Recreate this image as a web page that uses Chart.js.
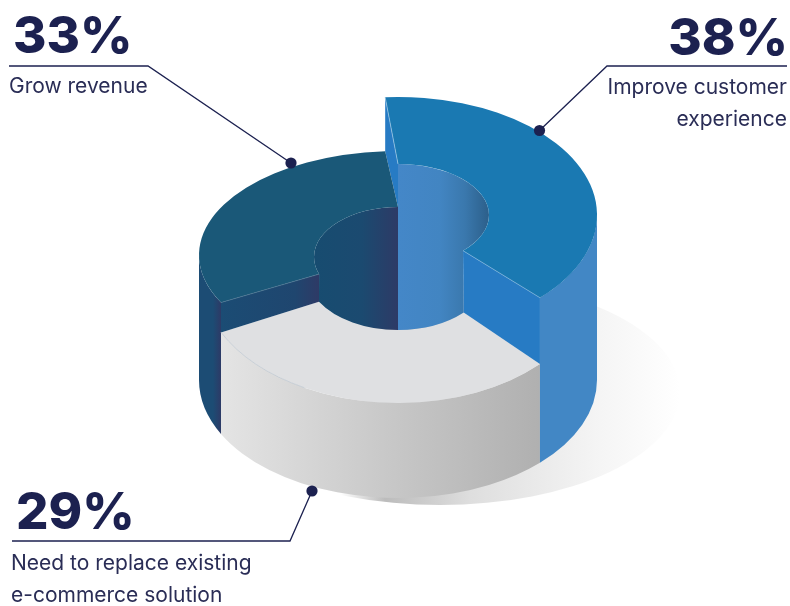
<!DOCTYPE html>
<html>
<head>
<meta charset="utf-8">
<title>Donut</title>
<script src="https://cdn.jsdelivr.net/npm/chart.js@4/dist/chart.umd.min.js"></script>
<style>
  html, body { margin: 0; padding: 0; background: #fff; }
  canvas { display: block; }
</style>
</head>
<body>
<canvas id="donut" width="790" height="606"></canvas>
<script>
const categories = ['Improve customer experience', 'Need to replace existing e-commerce solution', 'Grow revenue'];
const values = [38, 29, 33];
const labelLines = [['Improve customer', 'experience'], ['Need to replace existing', 'e-commerce solution'], ['Grow revenue']];

const topColors = ['#1a79b2', '#dfe0e2', '#1a5878'];
const inkColor = '#1c2150';
const textColor = '#2a2d56';

// each slice sits at its own height in the drawing
const cx = 398;
const outerR = 199;
const bottom = { cy: 380, ry: 118 };
const faces = [
  { cy: 215, ry: 118, holeCy: 215, holeRx: 91, holeRy: 51 },
  { cy: 273, ry: 130, holeCy: 272, holeRx: 92, holeRy: 58 },
  { cy: 255, ry: 104, holeCy: 257, holeRx: 84, holeRy: 50 }
];
// the cuts of the illustration are not quite radial, degrees
const outerNudge = [-3.7, -2.3, 1.6];
const holeStartNudge = [0, -2.4, 8.8];
const holeEndNudge = [-2.4, -2, 0];

const callouts = [
  { pin: [539.5, 130.5], elbow: [607, 66], end: [787, 66], align: 'right', pctX: 788, textX: 787, pctY: 55, lineY: [94, 126] },
  { pin: [312, 491], elbow: [290, 541], end: [12, 541], align: 'left', pctX: 16, textX: 11, pctY: 529, lineY: [570, 602] },
  { pin: [291, 163], elbow: [148, 66], end: [9, 66], align: 'left', pctX: 13, textX: 9, pctY: 53, lineY: [93] }
];

const rad = (d) => d * Math.PI / 180;

function anglesOf(arc, i) {
  const next = (i + 1) % values.length;
  return {
    o1: arc.startAngle + rad(outerNudge[i]),
    o2: arc.endAngle + rad(outerNudge[next]),
    i1: arc.startAngle + rad(holeStartNudge[i]),
    i2: arc.endAngle + rad(holeEndNudge[i])
  };
}

const outerPt = (f, t) => [cx + outerR * Math.cos(t), f.cy + f.ry * Math.sin(t)];
const holePt = (f, t) => [cx + f.holeRx * Math.cos(t), f.holeCy + f.holeRy * Math.sin(t)];

function hGrad(ctx, stops) {
  const x0 = stops[0][0];
  const x1 = stops[stops.length - 1][0];
  const g = ctx.createLinearGradient(x0, 0, x1, 0);
  stops.forEach((s) => g.addColorStop((s[0] - x0) / (x1 - x0), s[1]));
  return g;
}

function fillPoly(ctx, pts, fill) {
  ctx.beginPath();
  pts.forEach((p, i) => (i ? ctx.lineTo(p[0], p[1]) : ctx.moveTo(p[0], p[1])));
  ctx.closePath();
  ctx.fillStyle = fill;
  ctx.fill();
}

function hairline(ctx, a, b, color) {
  ctx.beginPath();
  ctx.moveTo(a[0], a[1]);
  ctx.lineTo(b[0], b[1]);
  ctx.strokeStyle = color;
  ctx.lineWidth = 0.7;
  ctx.stroke();
}

function drawWall(ctx, f, a, b, fill) {
  ctx.beginPath();
  ctx.ellipse(cx, f.cy, outerR, f.ry, 0, a, b);
  ctx.ellipse(cx, bottom.cy, outerR, bottom.ry, 0, b, a, true);
  ctx.closePath();
  ctx.fillStyle = fill;
  ctx.fill();
}

function drawTop(ctx, f, ang, fill) {
  ctx.beginPath();
  ctx.ellipse(cx, f.cy, outerR, f.ry, 0, ang.o1, ang.o2);
  ctx.ellipse(cx, f.holeCy, f.holeRx, f.holeRy, 0, ang.i2, ang.i1, true);
  ctx.closePath();
  ctx.fillStyle = fill;
  ctx.fill();
}

const donut3d = {
  id: 'donut3d',
  beforeDatasetsDraw(chart) {
    const ctx = chart.ctx;
    const arcs = chart.getDatasetMeta(0).data;
    const [blue, grey, dark] = arcs.map(anglesOf);
    const [fBlue, fGrey, fDark] = faces;

    ctx.save();

    // floor shadow
    ctx.beginPath();
    ctx.ellipse(440, 392, 240, 113, 0, 0, Math.PI * 2);
    ctx.fillStyle = hGrad(ctx, [[340, '#ffffff'], [385, '#bcbcbc'], [470, '#dedede'], [600, '#f5f5f5'], [680, '#ffffff']]);
    ctx.fill();

    // outer walls
    drawWall(ctx, fDark, dark.o1, Math.PI, hGrad(ctx, [[198, '#1c4c74'], [213, '#1c4c74'], [221, '#2d3a66']]));
    drawWall(ctx, fGrey, grey.o1, grey.o2, hGrad(ctx, [[221, '#e4e4e4'], [400, '#c6c6c6'], [540, '#b0b0b0']]));
    drawWall(ctx, fBlue, 0, blue.o2, '#4287c5');

    drawTop(ctx, fGrey, grey, topColors[1]);

    // inner walls of the hole
    ctx.beginPath();
    ctx.ellipse(cx, fBlue.holeCy, fBlue.holeRx, fBlue.holeRy, 0, blue.i1, blue.i2);
    ctx.ellipse(cx, fGrey.holeCy, fGrey.holeRx, fGrey.holeRy, 0, grey.i1, Math.PI / 2);
    ctx.closePath();
    ctx.fillStyle = hGrad(ctx, [[398, '#4487c8'], [440, '#4285c2'], [465, '#3a78ad'], [489, '#2c5f8a']]);
    ctx.fill();

    ctx.beginPath();
    ctx.ellipse(cx, fDark.holeCy, fDark.holeRx, fDark.holeRy, 0, dark.i2, dark.i1, true);
    ctx.ellipse(cx, fGrey.holeCy, fGrey.holeRx, fGrey.holeRy, 0, grey.i2, Math.PI / 2, true);
    ctx.closePath();
    ctx.fillStyle = hGrad(ctx, [[314, '#174c70'], [362, '#1b4a70'], [398, '#2d3a66']]);
    ctx.fill();

    // cut faces
    fillPoly(ctx, [outerPt(fBlue, blue.o2), holePt(fBlue, blue.i2), holePt(fGrey, grey.i1), outerPt(fGrey, grey.o1)], '#277bc4');
    fillPoly(ctx, [outerPt(fDark, dark.o1), holePt(fDark, dark.i1), holePt(fGrey, grey.i2), outerPt(fGrey, grey.o2)],
      hGrad(ctx, [[220, '#1b4c74'], [295, '#1f466f'], [319, '#2e3a66']]));
    fillPoly(ctx, [outerPt(fBlue, blue.o1), holePt(fBlue, blue.i1), holePt(fDark, dark.i2), outerPt(fDark, dark.o2)], '#277bc4');

    drawTop(ctx, fDark, dark, topColors[2]);
    drawTop(ctx, fBlue, blue, topColors[0]);

    // thin light edges along the cuts
    hairline(ctx, outerPt(fBlue, blue.o1), holePt(fBlue, blue.i1), '#a3cbe6');
    hairline(ctx, holePt(fBlue, blue.i2), outerPt(fBlue, blue.o2), '#7fb4dc');
    hairline(ctx, outerPt(fDark, dark.o1), holePt(fDark, dark.i1), '#4d7692');
    ctx.beginPath();
    ctx.ellipse(cx, fGrey.cy, outerR, fGrey.ry, 0, grey.o2, rad(118), true);
    ctx.strokeStyle = '#bcc6d0';
    ctx.lineWidth = 0.7;
    ctx.stroke();

    // callouts
    callouts.forEach((c, i) => {
      ctx.strokeStyle = inkColor;
      ctx.lineWidth = 1.3;
      ctx.beginPath();
      ctx.moveTo(c.pin[0], c.pin[1]);
      ctx.lineTo(c.elbow[0], c.elbow[1]);
      ctx.lineTo(c.end[0], c.end[1]);
      ctx.stroke();
      ctx.beginPath();
      ctx.arc(c.pin[0], c.pin[1], 5.6, 0, Math.PI * 2);
      ctx.fillStyle = inkColor;
      ctx.fill();

      ctx.textAlign = c.align;
      ctx.textBaseline = 'alphabetic';
      ctx.fillStyle = inkColor;
      ctx.font = '800 51px Inter';
      ctx.fillText(values[i] + '%', c.pctX, c.pctY);
      ctx.fillStyle = textColor;
      ctx.font = '400 21px Inter';
      labelLines[i].forEach((line, j) => ctx.fillText(line, c.textX, c.lineY[j]));
    });

    ctx.restore();
    return false;
  }
};

new Chart(document.getElementById('donut'), {
  type: 'doughnut',
  data: {
    labels: categories,
    datasets: [{ data: values, backgroundColor: topColors, borderWidth: 0 }]
  },
  options: {
    responsive: false,
    animation: false,
    devicePixelRatio: 1,
    radius: outerR,
    cutout: faces[0].holeRx,
    plugins: { legend: { display: false }, tooltip: { enabled: false } }
  },
  plugins: [donut3d]
});
</script>
</body>
</html>
